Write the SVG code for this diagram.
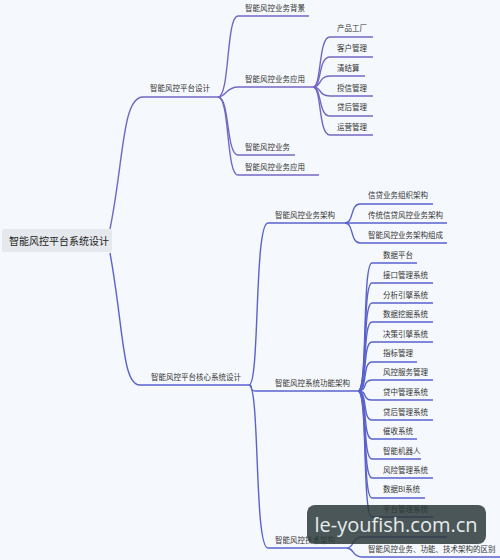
<svg xmlns="http://www.w3.org/2000/svg" width="500" height="560" viewBox="0 0 500 560">
<style>
text{font-family:"Noto Sans CJK SC","Noto Sans",sans-serif;font-size:7.5px;fill:#333}
.root{font-size:10px;fill:#222}
.c1{fill:none;stroke:#7467c4;stroke-width:1.4}
.c2{fill:none;stroke:#5a62cc;stroke-width:1.4}
.wm{font-family:"Open Sans","Noto Sans",sans-serif;font-size:20px;fill:#e6ecec}
</style>
<rect width="500" height="560" fill="#f5f8fc"/>
<g id="connectors">
<path class="c1" d="M110,229 C124,160 122,97 143,97 H218"/>
<path class="c2" d="M110,253 C124,330 122,385 140,385 H249"/>
<path class="c1" d="M218,97 C230,97 226,16 238,16 H309"/>
<path class="c1" d="M218,97 C226,97 226,87 238,87 H313"/>
<path class="c1" d="M218,97 C230,97 226,155 238,155 H295"/>
<path class="c1" d="M218,97 C230,97 226,175 238,175 H319"/>
<path class="c1" d="M313,87 C322,87 318,37 330,37 H373"/>
<path class="c1" d="M313,87 C322,87 318,57 330,57 H373"/>
<path class="c1" d="M313,87 C322,87 318,76 330,76 H365"/>
<path class="c1" d="M313,87 C322,87 318,96 330,96 H373"/>
<path class="c1" d="M313,87 C322,87 318,116 330,116 H373"/>
<path class="c1" d="M313,87 C322,87 318,135 330,135 H373"/>
<path class="c2" d="M249,385 C260,385 254,223 268,223 H345"/>
<path class="c2" d="M249,385 C254,385 248,391 256,391 H358"/>
<path class="c2" d="M249,385 C260,385 254,548 268,548 H347"/>
<path class="c2" d="M345,223 C354,223 350,204 360,204 H433"/>
<path class="c2" d="M345,223 H447"/>
<path class="c2" d="M345,223 C354,223 350,243 360,243 H447"/>
<path class="c2" d="M358,391 C368,391 362,263 372,263 H417"/>
<path class="c2" d="M358,391 C368,391 362,283 372,283 H433"/>
<path class="c2" d="M358,391 C368,391 362,303 372,303 H433"/>
<path class="c2" d="M358,391 C368,391 362,322 372,322 H433"/>
<path class="c2" d="M358,391 C368,391 362,342 372,342 H433"/>
<path class="c2" d="M358,391 C368,391 362,362 372,362 H417"/>
<path class="c2" d="M358,391 C368,391 362,380 372,380 H433"/>
<path class="c2" d="M358,391 C368,391 362,400 372,400 H433"/>
<path class="c2" d="M358,391 C368,391 362,420 372,420 H433"/>
<path class="c2" d="M358,391 C368,391 362,439 372,439 H417"/>
<path class="c2" d="M358,391 C368,391 362,459 372,459 H421"/>
<path class="c2" d="M358,391 C368,391 362,478 372,478 H433"/>
<path class="c2" d="M358,391 C368,391 362,498 372,498 H425"/>
<path class="c2" d="M358,391 C368,391 362,517 372,517 H433"/>
<path class="c2" d="M347,548 C354,548 352,537 362,537 H447"/>
<path class="c2" d="M347,548 C354,548 352,557 362,557 H500"/>
</g>
<g id="root"><rect x="2" y="229" width="110" height="23" rx="2" fill="#e5e8ec"/><text class="root" x="9" y="245">智能风控平台系统设计</text></g>
<g id="n1"><text x="150" y="91">智能风控平台设计</text></g>
<g id="n2"><text x="151" y="380">智能风控平台核心系统设计</text></g>
<g id="n1-1"><text x="245" y="11">智能风控业务背景</text></g>
<g id="n1-2"><text x="245" y="82">智能风控业务应用</text></g>
<g id="n1-3"><text x="245" y="150">智能风控业务</text></g>
<g id="n1-4"><text x="245" y="170">智能风控业务应用</text></g>
<g id="n1-2-1"><text x="337" y="31">产品工厂</text></g>
<g id="n1-2-2"><text x="337" y="51">客户管理</text></g>
<g id="n1-2-3"><text x="337" y="71">清结算</text></g>
<g id="n1-2-4"><text x="337" y="91">授信管理</text></g>
<g id="n1-2-5"><text x="337" y="110">贷后管理</text></g>
<g id="n1-2-6"><text x="337" y="130">运营管理</text></g>
<g id="n2-1"><text x="275" y="218">智能风控业务架构</text></g>
<g id="n2-2"><text x="275" y="386">智能风控系统功能架构</text></g>
<g id="n2-3"><text x="275" y="543">智能风控技术架构</text></g>
<g id="n2-1-1"><text x="368" y="198">信贷业务组织架构</text></g>
<g id="n2-1-2"><text x="368" y="218">传统信贷风控业务架构</text></g>
<g id="n2-1-3"><text x="368" y="238">智能风控业务架构组成</text></g>
<g id="n2-2-1"><text x="383" y="258">数据平台</text></g>
<g id="n2-2-2"><text x="383" y="278">接口管理系统</text></g>
<g id="n2-2-3"><text x="383" y="298">分析引擎系统</text></g>
<g id="n2-2-4"><text x="383" y="317">数据挖掘系统</text></g>
<g id="n2-2-5"><text x="383" y="337">决策引擎系统</text></g>
<g id="n2-2-6"><text x="383" y="356">指标管理</text></g>
<g id="n2-2-7"><text x="383" y="375">风控服务管理</text></g>
<g id="n2-2-8"><text x="383" y="395">贷中管理系统</text></g>
<g id="n2-2-9"><text x="383" y="415">贷后管理系统</text></g>
<g id="n2-2-10"><text x="383" y="434">催收系统</text></g>
<g id="n2-2-11"><text x="383" y="454">智能机器人</text></g>
<g id="n2-2-12"><text x="383" y="473">风险管理系统</text></g>
<g id="n2-2-13"><text x="383" y="492">数据BI系统</text></g>
<g id="n2-2-14"><text x="383" y="512">平台管理系统</text></g>
<g id="n2-3-2"><text x="368" y="552">智能风控业务、功能、技术架构的区别</text></g>
<g id="watermark"><rect x="307" y="505" width="179" height="39" rx="8" fill="#2c3a3a" fill-opacity="0.85"/><text class="wm" x="396" y="532" text-anchor="middle">le-youfish.com.cn</text></g>
</svg>
